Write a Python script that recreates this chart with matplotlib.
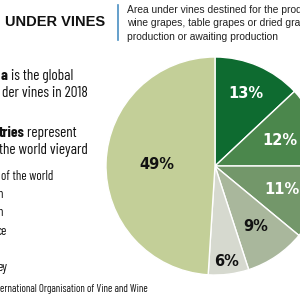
import numpy as np
import matplotlib
matplotlib.use("Agg")
import matplotlib.pyplot as plt

shares = [13, 12, 11, 9, 6, 49]
colors = ["#0e6b30", "#4b874c", "#73976a", "#a9b79c", "#d6d9cf", "#c3cf98"]
label_colors = ["white", "white", "white", "#111111", "#111111", "#111111"]
label_radius = [0.72, 0.64, 0.65, 0.67, 0.88, 0.53]

title = "UNDER VINES"
note = ["Area under vines destined for the production of",
        "wine grapes, table grapes or dried grapes, in",
        "production or awaiting production"]
lead = [("a", " is the global"), ("", "der vines in 2018"),
        ("tries", " represent"), ("", "the world vieyard")]
list_items = ["of the world", "n", "n", "ce", "", "ey"]
source = "ernational Organisation of Vine and Wine"

W = H = 300
fig = plt.figure(figsize=(3, 3), dpi=100)
fig.patch.set_facecolor("white")

def px(x, y):
    return x / W, 1 - y / H

# pie
cx, cy, r = 215, 166, 109
ax = fig.add_axes([(cx - r) / W, 1 - (cy + r) / H, 2 * r / W, 2 * r / H])
wedges, _ = ax.pie(shares, colors=colors, startangle=90, counterclock=False,
                   radius=1, wedgeprops=dict(edgecolor="white", linewidth=1.0))
for w in wedges:
    w.set_clip_on(False)
ax.set_xlim(-1, 1)
ax.set_ylim(-1, 1)
ax.set_aspect("equal")
ax.axis("off")
for w, v, c, rr in zip(wedges, shares, label_colors, label_radius):
    mid = np.deg2rad((w.theta1 + w.theta2) / 2)
    ax.text(rr * np.cos(mid), rr * np.sin(mid), f"{v}%", color=c,
            ha="center", va="center", fontsize=10.5, fontweight="bold",
            family="DejaVu Sans", clip_on=False)

# header
fig.text(*px(5, 22), title, fontsize=10.5, fontweight="heavy",
         family="Liberation Sans", va="center", ha="left", color="#111111")
fig.add_artist(plt.Line2D([118 / W, 118 / W], [1 - 5 / H, 1 - 40 / H],
                          color="#4a8fc2", linewidth=1.2))
for i, line in enumerate(note):
    fig.text(*px(127, 10 + i * 13.5), line, fontsize=7.4, family="Liberation Sans",
             va="center", ha="left", color="#222222")

renderer = fig.canvas.get_renderer()
cond = ["Barlow Condensed", "DejaVu Sans"]

def split_line(x_end, y, bold, regular, size):
    # right-aligned at the visible end, bold part placed just left of it
    t = fig.text(*px(x_end, y), regular, fontsize=size, family=cond,
                 ha="right", va="baseline", color="#111111")
    x0 = t.get_window_extent(renderer).x0
    if bold:
        fig.text(x0 / W, 1 - y / H, bold, fontsize=size, family=cond,
                 fontweight="bold", ha="right", va="baseline", color="#111111")

for (b, rtext), xe, yb in zip(lead, [73, 88, 77, 88], [80, 97, 137, 154]):
    split_line(xe, yb, b, rtext, 11)

for item, xe, i in zip(list_items, [53, 3, 3, 7, 0, 7], range(6)):
    if item:
        split_line(xe, 180 + i * 18.2, "", item, 9.3)

split_line(148, 292, "", source, 7.7)

fig.savefig("out.png", dpi=100, facecolor="white")
